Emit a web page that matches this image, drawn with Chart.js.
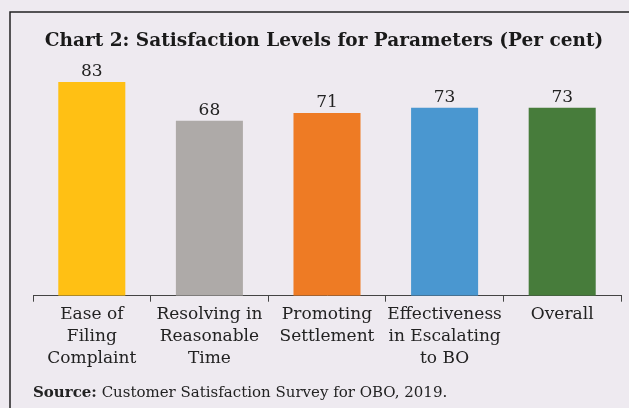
<!DOCTYPE html>
<html>
<head>
<meta charset="utf-8">
<script src="https://cdn.jsdelivr.net/npm/chart.js@4/dist/chart.umd.min.js"></script>
<style>
  html, body { margin: 0; padding: 0; background: #EEEAF0; }
  #wrap { position: relative; width: 629px; height: 408px; }
</style>
</head>
<body>
<div id="wrap"><canvas id="c" width="629" height="408"></canvas></div>
<script>
const categories = [
  ["Ease of", "Filing", "Complaint"],
  ["Resolving in", "Reasonable", "Time"],
  ["Promoting", "Settlement"],
  ["Effectiveness", "in Escalating", "to BO"],
  ["Overall"]
];
const satisfaction = [83, 68, 71, 73, 73];
const barColors = ["#FFC014", "#AEAAA8", "#EE7B24", "#4A97D0", "#477C3B"];
const titleText = "Chart 2: Satisfaction Levels for Parameters (Per cent)";
const sourceLabel = "Source:";
const sourceText = " Customer Satisfaction Survey for OBO, 2019.";

const SERIF = "'DejaVu Serif', 'Liberation Serif', serif";

const decor = {
  id: 'decor',
  beforeDraw(chart) {
    const ctx = chart.ctx;
    ctx.save();
    ctx.fillStyle = '#EEEAF0';
    ctx.fillRect(0, 0, chart.width, chart.height);
    ctx.strokeStyle = '#222';
    ctx.lineWidth = 1.5;
    ctx.beginPath();
    ctx.moveTo(10, chart.height);
    ctx.lineTo(10, 12);
    ctx.lineTo(chart.width, 12);
    ctx.stroke();
    ctx.restore();
  },
  afterDraw(chart) {
    const ctx = chart.ctx;
    ctx.save();
    // title
    ctx.fillStyle = '#1a1a1a';
    ctx.font = "bold 18.5px " + SERIF;
    ctx.textAlign = 'center';
    ctx.textBaseline = 'middle';
    ctx.fillText(titleText, 324, 41);
    // value labels
    ctx.font = "17px " + SERIF;
    ctx.fillStyle = '#222';
    ctx.textBaseline = 'bottom';
    const meta = chart.getDatasetMeta(0);
    meta.data.forEach((bar, i) => {
      ctx.fillText(String(satisfaction[i]), bar.x, bar.y - 2);
    });
    // source
    ctx.textAlign = 'left';
    ctx.textBaseline = 'middle';
    ctx.font = "bold 15px " + SERIF;
    ctx.fillText(sourceLabel, 33, 393);
    const w = ctx.measureText(sourceLabel).width;
    ctx.font = "15px " + SERIF;
    ctx.fillText(sourceText, 33 + w, 393);
    ctx.restore();
  }
};

new Chart(document.getElementById('c'), {
  type: 'bar',
  data: {
    labels: categories,
    datasets: [{
      data: satisfaction,
      backgroundColor: barColors,
      borderWidth: 0,
      categoryPercentage: 0.57,
      barPercentage: 1.0
    }]
  },
  options: {
    responsive: false,
    animation: false,
    layout: { padding: { left: 33, right: 8, top: 64, bottom: 36 } },
    plugins: {
      legend: { display: false },
      title: { display: false },
      tooltip: { enabled: false }
    },
    scales: {
      x: {
        offset: true,
        grid: {
          display: true,
          offset: true,
          drawOnChartArea: false,
          drawTicks: true,
          tickLength: 6,
          color: '#444',
          lineWidth: 1
        },
        border: { display: true, color: '#444', width: 1 },
        ticks: {
          color: '#222',
          font: { family: SERIF, size: 17, lineHeight: 1.3 },
          padding: 2,
          maxRotation: 0,
          autoSkip: false
        }
      },
      y: {
        display: false,
        min: 0,
        max: 90
      }
    }
  },
  plugins: [decor]
});
</script>
</body>
</html>
